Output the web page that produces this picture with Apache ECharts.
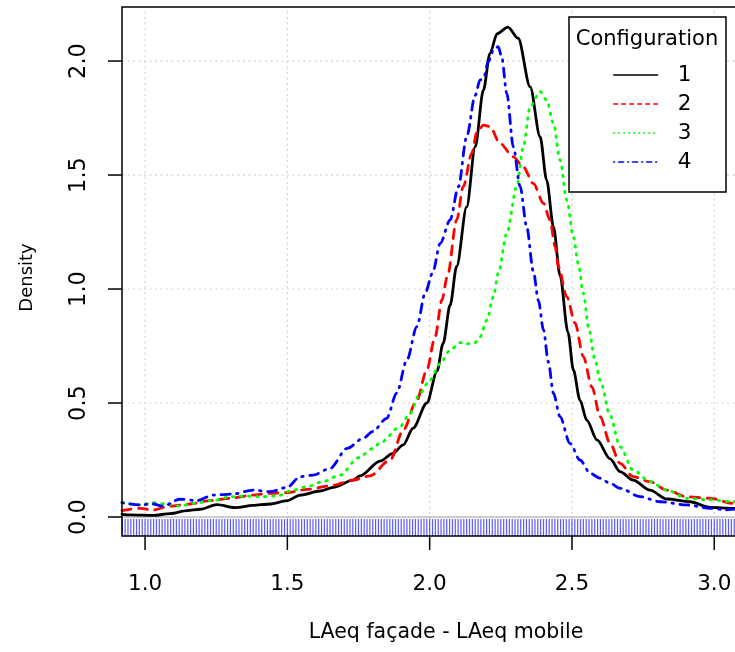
<!DOCTYPE html>
<html><head><meta charset="utf-8">
<script src="https://cdn.jsdelivr.net/npm/echarts@6/dist/echarts.min.js"></script>
<style>html,body{margin:0;padding:0;overflow:hidden;background:#fff;width:735px;height:652px}
#c{width:800px;height:652px}</style></head>
<body><div id="c"></div>
<script>
const xTicks = [1.0, 1.5, 2.0, 2.5, 3.0];
const yTicks = [0, 0.5, 1.0, 1.5, 2.0];
const configNames = ['1', '2', '3', '4'];

const x1 = [0.919,0.95,1.028,1.088,1.148,1.193,1.253,1.316,1.379,1.439,1.499,1.545,1.615,1.661,1.731,1.755,1.826,1.871,1.907,1.942,1.99,2.026,2.047,2.072,2.095,2.13,2.16,2.189,2.212,2.237,2.275,2.311,2.353,2.388,2.411,2.435,2.458,2.486,2.505,2.528,2.552,2.588,2.634,2.669,2.715,2.774,2.833,2.915,2.985,3.066,3.12];
const y1 = [0.012,0.009,0.007,0.015,0.028,0.034,0.054,0.041,0.051,0.057,0.072,0.096,0.114,0.13,0.162,0.18,0.245,0.279,0.316,0.39,0.50,0.64,0.76,0.93,1.10,1.36,1.624,1.873,2.034,2.12,2.149,2.10,1.887,1.668,1.478,1.273,1.06,0.81,0.645,0.513,0.425,0.338,0.255,0.199,0.162,0.118,0.079,0.067,0.042,0.038,0.035];

const x2 = [0.919,0.982,1.028,1.088,1.158,1.228,1.299,1.379,1.439,1.499,1.569,1.65,1.731,1.79,1.861,1.907,1.955,1.99,2.019,2.043,2.062,2.095,2.118,2.148,2.165,2.189,2.212,2.247,2.294,2.329,2.364,2.4,2.423,2.441,2.452,2.482,2.511,2.54,2.57,2.599,2.634,2.669,2.715,2.774,2.833,2.903,2.985,3.066,3.12];
const y2 = [0.028,0.038,0.031,0.048,0.057,0.072,0.082,0.096,0.104,0.107,0.121,0.136,0.162,0.18,0.25,0.38,0.513,0.645,0.79,0.952,1.054,1.303,1.449,1.595,1.683,1.719,1.712,1.639,1.58,1.536,1.463,1.376,1.303,1.186,1.098,0.966,0.85,0.703,0.571,0.44,0.323,0.235,0.177,0.155,0.118,0.089,0.082,0.06,0.05];

const x3 = [0.919,0.982,1.028,1.077,1.123,1.169,1.239,1.299,1.344,1.404,1.464,1.52,1.569,1.625,1.685,1.75,1.801,1.826,1.896,1.931,1.966,2.001,2.037,2.072,2.107,2.13,2.16,2.177,2.201,2.224,2.241,2.271,2.306,2.329,2.353,2.388,2.411,2.435,2.458,2.482,2.505,2.522,2.54,2.558,2.581,2.599,2.634,2.669,2.715,2.774,2.833,2.903,2.985,3.066,3.12];
const y3 = [0.063,0.053,0.063,0.057,0.048,0.06,0.072,0.089,0.092,0.089,0.092,0.118,0.133,0.155,0.184,0.26,0.301,0.325,0.396,0.455,0.543,0.601,0.674,0.732,0.765,0.759,0.765,0.79,0.864,0.966,1.069,1.244,1.449,1.624,1.8,1.866,1.829,1.727,1.566,1.39,1.229,1.113,0.981,0.835,0.689,0.6,0.445,0.308,0.206,0.155,0.118,0.082,0.075,0.067,0.06];

const x4 = [0.919,0.982,1.028,1.063,1.123,1.183,1.239,1.309,1.379,1.439,1.499,1.545,1.59,1.65,1.71,1.766,1.80,1.849,1.884,1.92,1.955,1.984,2.01,2.037,2.072,2.101,2.13,2.16,2.177,2.189,2.206,2.224,2.241,2.253,2.271,2.294,2.318,2.341,2.364,2.382,2.4,2.417,2.435,2.458,2.493,2.528,2.564,2.599,2.634,2.669,2.739,2.81,2.903,2.985,3.044,3.073,3.12];
const y4 = [0.063,0.053,0.057,0.048,0.078,0.072,0.096,0.101,0.118,0.111,0.13,0.177,0.184,0.213,0.301,0.345,0.375,0.433,0.543,0.689,0.835,0.981,1.07,1.2,1.303,1.449,1.668,1.85,1.917,1.924,1.997,2.048,2.063,2.019,1.858,1.624,1.449,1.273,1.08,0.95,0.82,0.68,0.543,0.44,0.323,0.25,0.192,0.17,0.148,0.126,0.089,0.067,0.053,0.038,0.031,0.035,0.035];

const rugX = [0.92,0.93,0.94,0.95,0.96,0.97,0.98,0.99,
1.00,1.01,1.02,1.03,1.04,1.05,1.06,1.07,1.08,1.09,1.10,1.11,1.12,1.13,1.14,1.15,1.16,1.17,1.18,1.19,
1.20,1.21,1.22,1.23,1.24,1.25,1.26,1.27,1.28,1.29,1.30,1.31,1.32,1.33,1.34,1.35,1.36,1.37,1.38,1.39,
1.40,1.41,1.42,1.43,1.44,1.45,1.46,1.47,1.48,1.49,1.50,1.51,1.52,1.53,1.54,1.55,1.56,1.57,1.58,1.59,
1.60,1.61,1.62,1.63,1.64,1.65,1.66,1.67,1.68,1.69,1.70,1.71,1.72,1.73,1.74,1.75,1.76,1.77,1.78,1.79,
1.80,1.81,1.82,1.83,1.84,1.85,1.86,1.87,1.88,1.89,1.90,1.91,1.92,1.93,1.94,1.95,1.96,1.97,1.98,1.99,
2.00,2.01,2.02,2.03,2.04,2.05,2.06,2.07,2.08,2.09,2.10,2.11,2.12,2.13,2.14,2.15,2.16,2.17,2.18,2.19,
2.20,2.21,2.22,2.23,2.24,2.25,2.26,2.27,2.28,2.29,2.30,2.31,2.32,2.33,2.34,2.35,2.36,2.37,2.38,2.39,
2.40,2.41,2.42,2.43,2.44,2.45,2.46,2.47,2.48,2.49,2.50,2.51,2.52,2.53,2.54,2.55,2.56,2.57,2.58,2.59,
2.60,2.61,2.62,2.63,2.64,2.65,2.66,2.67,2.68,2.69,2.70,2.71,2.72,2.73,2.74,2.75,2.76,2.77,2.78,2.79,
2.80,2.81,2.82,2.83,2.84,2.85,2.86,2.87,2.88,2.89,2.90,2.91,2.92,2.93,2.94,2.95,2.96,2.97,2.98,2.99,
3.00,3.01,3.02,3.03,3.04,3.05,3.06,3.07];

// plot box (data range shown inside the frame) and the wider axis range that leaves room for tick marks
const PLOT_X_MIN = 0.919, PLOT_X_MAX = 3.245, PLOT_Y_MIN = -0.0833, PLOT_Y_MAX = 2.237;
const AX_X_MIN = 0.8698, AX_X_MAX = 3.245, AX_Y_MIN = -0.1447, AX_Y_MAX = 2.2458;
const FONT = 'DejaVu Sans';
const colors = ['#000000', '#ff0000', '#00ff00', '#0000ff'];
const dashes = ['solid', [9, 7.5], [1.5, 6.5], [1.5, 6.5, 9, 6.5]];
const legendDashes = ['solid', [4, 4], [1, 4], [1, 4, 5, 4]];
const xs = [x1, x2, x3, x4], ys = [y1, y2, y3, y4];

const chart = echarts.init(document.getElementById('c'), null, {renderer: 'canvas'});

const lineSeries = configNames.map((n, i) => ({
  name: n, type: 'line', symbol: 'none', smooth: 0.3, smoothMonotone: 'x', z: 3 + i,
  data: xs[i].map((x, k) => [x, ys[i][k]]),
  lineStyle: {color: colors[i], width: 2.8, type: dashes[i], cap: 'round', join: 'round'},
  itemStyle: {color: colors[i]},
  emphasis: {disabled: true}
}));

const fmt = v => v.toFixed(1);

const boxGraphics = [
  {id: 'legbox', type: 'rect', shape: {x: 569, y: 17, width: 157, height: 175}, style: {fill: '#fff', stroke: '#000', lineWidth: 1.5}, z: 100},
  {id: 'legtitle', type: 'text', x: 647, y: 40, style: {text: 'Configuration', fontFamily: FONT, fontSize: 21, fill: '#000', align: 'center', verticalAlign: 'middle'}, z: 101}
];

function lineEl(a, b, style) {
  return {type: 'line', shape: {x1: a[0], y1: a[1], x2: b[0], y2: b[1]}, style: style};
}

chart.setOption({
  animation: false,
  backgroundColor: '#fff',
  grid: {left: 108, top: 5, width: 676, height: 545, show: false, containLabel: false},
  xAxis: {
    type: 'value', min: AX_X_MIN, max: AX_X_MAX,
    name: 'LAeq façade - LAeq mobile', nameLocation: 'middle', nameGap: 72,
    nameTextStyle: {fontFamily: FONT, fontSize: 20.5, color: '#000'},
    axisLine: {show: false, onZero: false},
    axisTick: {show: false},
    axisLabel: {customValues: xTicks, formatter: fmt, margin: 23, fontFamily: FONT, fontSize: 21.5, color: '#000'},
    splitLine: {show: false}
  },
  yAxis: {
    type: 'value', min: AX_Y_MIN, max: AX_Y_MAX,
    name: 'Density', nameLocation: 'middle', nameGap: 72, nameRotate: 90,
    nameTextStyle: {fontFamily: FONT, fontSize: 18, color: '#000'},
    axisLine: {show: false, onZero: false},
    axisTick: {show: false},
    axisLabel: {customValues: yTicks, formatter: fmt, rotate: 90, margin: 17, fontFamily: FONT, fontSize: 22.5, color: '#000'},
    splitLine: {show: false}
  },
  legend: {
    orient: 'vertical', left: 613, top: 64, padding: 0, itemGap: 7, itemWidth: 44, itemHeight: 22,
    selectedMode: false, z: 200,
    textStyle: {fontFamily: FONT, fontSize: 21.5, color: '#000', padding: [0, 0, 0, 15], lineHeight: 22},
    itemStyle: {opacity: 0},
    data: configNames.map((n, i) => ({name: n, lineStyle: {width: 1.3, type: legendDashes[i], color: colors[i], cap: 'round'}}))
  },
  graphic: boxGraphics,
  series: [
    {
      name: 'vgrid', type: 'custom', z: 1, silent: true,
      data: xTicks.map(v => [v, 0]),
      renderItem: (params, api) => lineEl(api.coord([api.value(0), PLOT_Y_MIN]), api.coord([api.value(0), PLOT_Y_MAX]),
        {stroke: '#d3d3d3', lineWidth: 1.2, lineDash: [2, 3.5]})
    },
    {
      name: 'hgrid', type: 'custom', z: 1, silent: true,
      data: yTicks.map(v => [PLOT_X_MIN, v]),
      renderItem: (params, api) => lineEl(api.coord([PLOT_X_MIN, api.value(1)]), api.coord([PLOT_X_MAX, api.value(1)]),
        {stroke: '#d3d3d3', lineWidth: 1.2, lineDash: [2, 3.5]})
    },
    {
      name: 'zero', type: 'custom', z: 2, silent: true,
      data: [[PLOT_X_MIN, 0]],
      renderItem: (params, api) => lineEl(api.coord([PLOT_X_MIN, 0]), api.coord([PLOT_X_MAX, 0]),
        {stroke: '#bebebe', lineWidth: 1.5})
    },
    {
      name: 'rug', type: 'custom', z: 2, silent: true,
      data: rugX.map(v => [v, PLOT_Y_MIN]),
      renderItem: function (params, api) {
        const p = api.coord([api.value(0), PLOT_Y_MIN]);
        return lineEl([p[0], p[1] - 17], p, {stroke: 'rgba(20,20,255,0.7)', lineWidth: 1.2});
      }
    },
    {
      name: 'frame', type: 'custom', z: 20, silent: true,
      data: [[PLOT_X_MIN, PLOT_Y_MIN]],
      renderItem: function (params, api) {
        const a = api.coord([PLOT_X_MIN, PLOT_Y_MAX]);
        const b = api.coord([PLOT_X_MAX, PLOT_Y_MIN]);
        return {type: 'rect', shape: {x: a[0], y: a[1], width: b[0] - a[0], height: b[1] - a[1]},
                style: {fill: 'none', stroke: '#000', lineWidth: 1.5}};
      }
    },
    {
      name: 'xticks', type: 'custom', z: 20, silent: true,
      data: xTicks.map(v => [v, PLOT_Y_MIN]),
      renderItem: function (params, api) {
        const p = api.coord([api.value(0), PLOT_Y_MIN]);
        return lineEl(p, [p[0], p[1] + 14], {stroke: '#000', lineWidth: 1.5});
      }
    },
    {
      name: 'yticks', type: 'custom', z: 20, silent: true,
      data: yTicks.map(v => [PLOT_X_MIN, v]),
      renderItem: function (params, api) {
        const p = api.coord([PLOT_X_MIN, api.value(1)]);
        return lineEl([p[0] - 14, p[1]], p, {stroke: '#000', lineWidth: 1.5});
      }
    }
  ].concat(lineSeries)
});
</script>
</body></html>
